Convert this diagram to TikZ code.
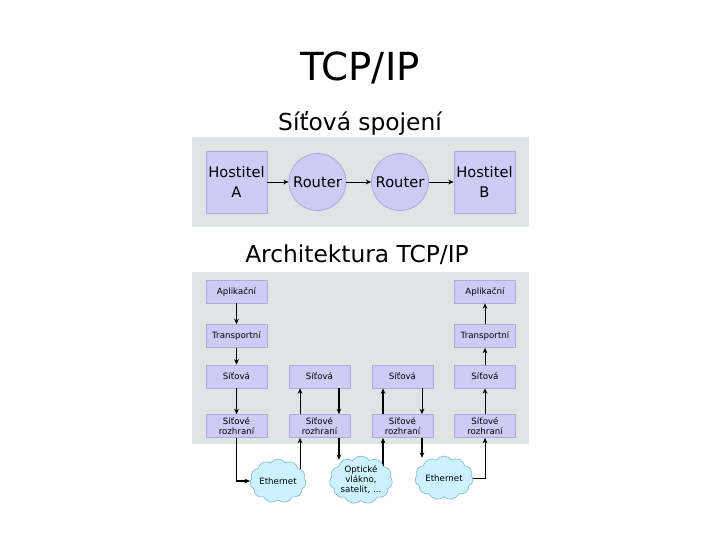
\documentclass[tikz,border=0pt]{standalone}
\usepackage{fontspec}
\setmainfont{DejaVu Sans}
\usetikzlibrary{shapes.symbols,arrows.meta,backgrounds,calc}
\definecolor{panelbg}{HTML}{DFE4E4}
\definecolor{boxfill}{HTML}{CCCCF7}
\definecolor{boxline}{HTML}{AAAADD}
\definecolor{cloudfill}{HTML}{CCF2FF}
\definecolor{cloudline}{HTML}{88B8CC}
\tikzset{
  hostbox/.style={rectangle,fill=boxfill,draw=boxline,line width=0.6pt,minimum width=45.75pt,minimum height=46.5pt,inner sep=0pt,align=center,font=\fontsize{11}{15}\selectfont},
  routernode/.style={circle,fill=boxfill,draw=boxline,line width=0.6pt,minimum size=42.75pt,inner sep=0pt,font=\fontsize{11}{13}\selectfont},
  layerbox/.style={rectangle,fill=boxfill,draw=boxline,line width=0.6pt,minimum width=45.75pt,minimum height=17.25pt,inner sep=0pt,align=center,font=\fontsize{6.5}{7.5}\selectfont},
  netcloud/.style={cloud,cloud puffs=11,cloud puff arc=110,aspect=1.4,fill=cloudfill,draw=cloudline,line width=0.5pt,inner sep=0pt,align=center,font=\fontsize{6.5}{7.5}\selectfont},
  conn/.style={-{Stealth[length=4pt,width=3.5pt]},line width=0.5pt},
  lconn/.style={-{Stealth[length=4pt,width=3.5pt]},line width=0.9pt},
  heading/.style={font=\fontsize{17.5}{20}\selectfont,inner sep=0pt},
}
\begin{document}
\begin{tikzpicture}[x=0.75pt,y=-0.75pt]
\useasboundingbox (0,0) rectangle (720,540);
\node[font=\fontsize{29}{32}\selectfont,inner sep=0pt] (title) at (360,68) {TCP/IP};
\node[heading] (h1) at (360,123) {Síťová spojení};
\node[hostbox] (ha) at (236.5,182) {Hostitel\\A};
\node[routernode] (r1) at (317.5,182) {Router};
\node[routernode] (r2) at (400,182) {Router};
\node[hostbox] (hb) at (484.5,182) {Hostitel\\B};
\draw[conn] (ha) -- (r1);
\draw[conn] (r1) -- (r2);
\draw[conn] (r2) -- (hb);

\node[heading] (h2) at (357,255) {Architektura TCP/IP};
% layer boxes
\node[layerbox] (apl1) at (236.5,291.5) {Aplikační};
\node[layerbox] (apl4) at (485,291.5) {Aplikační};
\node[layerbox] (tr1) at (236.5,336) {Transportní};
\node[layerbox] (tr4) at (485,336) {Transportní};
\node[layerbox] (sit1) at (236.5,376.5) {Síťová};
\node[layerbox] (sit2) at (319.5,376.5) {Síťová};
\node[layerbox] (sit3) at (402.5,376.5) {Síťová};
\node[layerbox] (sit4) at (485,376.5) {Síťová};
\node[layerbox] (roz1) at (236.5,426) {Síťové\\rozhraní};
\node[layerbox] (roz2) at (319.5,426) {Síťové\\rozhraní};
\node[layerbox] (roz3) at (402.5,426) {Síťové\\rozhraní};
\node[layerbox] (roz4) at (485,426) {Síťové\\rozhraní};
% clouds
\node[netcloud,minimum width=39.75pt,minimum height=29.25pt] (c1) at (278,481) {Ethernet};
\node[netcloud,minimum width=47.25pt,minimum height=34.5pt] (c2) at (361,480) {Optické\\vlákno,\\satelit, ...};
\node[netcloud,minimum width=43.5pt,minimum height=30pt] (c3) at (444,478) {Ethernet};
% vertical connectors
\draw[lconn] (apl1) -- (tr1);
\draw[lconn] (tr1) -- (sit1);
\draw[lconn] (sit1) -- (roz1);
\draw[conn] (roz4) -- (sit4);
\draw[conn] (sit4) -- (tr4);
\draw[conn] (tr4) -- (apl4);
\draw[conn] ([xshift=-14.6pt]roz2.north) -- ([xshift=-14.6pt]sit2.south);
\draw[lconn] ([xshift=14.6pt]sit2.south) -- ([xshift=14.6pt]roz2.north);
\draw[lconn] ([xshift=-14.6pt]roz3.north) -- ([xshift=-14.6pt]sit3.south);
\draw[conn] ([xshift=14.6pt]sit3.south) -- ([xshift=14.6pt]roz3.north);
% connectors to the networks
\draw[lconn] (roz1.south) |- (c1.west);
\draw[lconn] ([xshift=14.6pt]roz2.south) -- ([xshift=14.6pt,yshift=-3pt]roz2.south |- c2.north);
\draw[lconn] ([xshift=14.6pt]roz3.south) -- ([xshift=14.6pt,yshift=-1.5pt]roz3.south |- c3.north);
\draw[conn] (c3.east) -| (roz4.south);
\begin{scope}[on background layer]
\fill[panelbg] (192,137) rectangle (529,227);
\fill[panelbg] (192,272) rectangle (529,444);
\draw[conn] ([xshift=-14.6pt]roz2.south |- c1.center) -- ([xshift=-14.6pt]roz2.south);
\draw[lconn] ([xshift=-14.6pt]roz3.south |- c2.center) -- ([xshift=-14.6pt]roz3.south);
\end{scope}
\end{tikzpicture}
\end{document}
